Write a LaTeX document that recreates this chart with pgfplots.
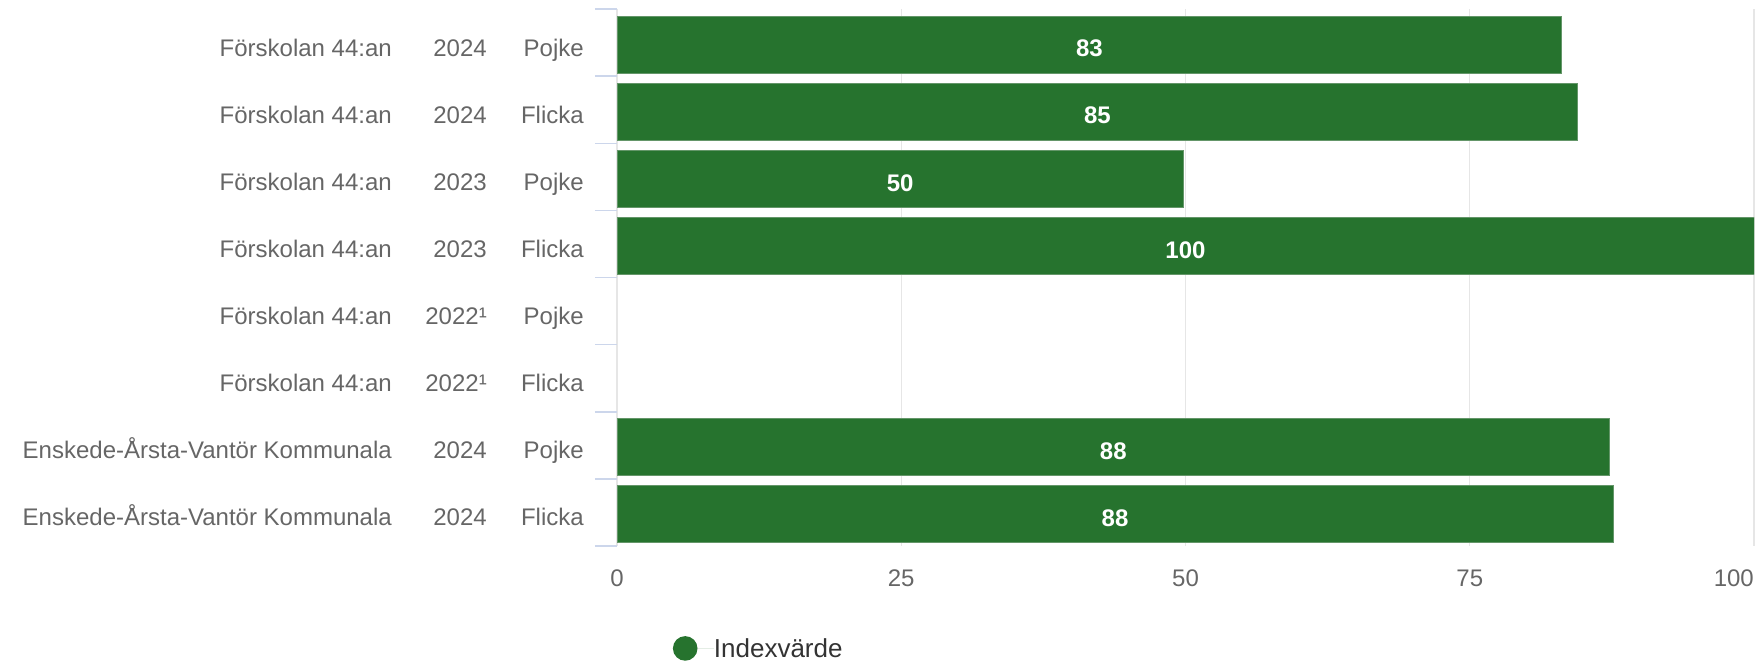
\documentclass[border=0pt]{standalone}
\usepackage{fontspec}
\setmainfont{Liberation Sans}
\usepackage{pgfplots}
\usepackage{pgfplotstable}
\pgfplotsset{compat=1.18}
\definecolor{bargreen}{RGB}{38,115,46}
\definecolor{baredge}{RGB}{100,150,105}
\definecolor{labgray}{RGB}{102,102,102}
\definecolor{tickblue}{RGB}{204,214,235}
\definecolor{gridgray}{RGB}{230,230,230}
\definecolor{legtext}{RGB}{51,51,51}

\pgfplotstableread{
y x lab
1 83.1 83
2 84.5 85
3 49.8 50
4 100 100
7 87.3 88
8 87.6 88
}\bars

\newcommand{\rowlab}[3]{#1\makebox[95pt][r]{#2}\makebox[97pt][r]{#3}}

\begin{document}
\begin{tikzpicture}
\path[use as bounding box] (0,0) rectangle (1763pt,665pt);
\begin{axis}[
  at={(617pt,119pt)}, anchor=south west,
  scale only axis, width=1137pt, height=537pt,
  xmin=0, xmax=100, ymin=0.5, ymax=8.5, y dir=reverse,
  axis line style={draw=none},
  /pgf/number format/assume math mode=true,
  xtick={0,25,50,75},
  extra x ticks={100},
  extra x tick style={grid=major, xticklabel style={anchor=north east}},
  xmajorgrids, grid style={gridgray, line width=1.2pt},
  ytick={1,...,8},
  yticklabels={
    \rowlab{Förskolan 44:an}{2024}{Pojke},
    \rowlab{Förskolan 44:an}{2024}{Flicka},
    \rowlab{Förskolan 44:an}{2023}{Pojke},
    \rowlab{Förskolan 44:an}{2023}{Flicka},
    \rowlab{Förskolan 44:an}{2022¹}{Pojke},
    \rowlab{Förskolan 44:an}{2022¹}{Flicka},
    \rowlab{Enskede-Årsta-Vantör Kommunala}{2024}{Pojke},
    \rowlab{Enskede-Årsta-Vantör Kommunala}{2024}{Flicka}},
  minor ytick={0.5,1.5,...,8.5},
  major tick length=0pt,
  minor tick length=22pt,
  tick align=outside,
  ytick pos=left, xtick pos=bottom,
  minor tick style={tickblue, line width=1.5pt},
  yticklabel style={anchor=base east, inner sep=0pt, xshift=-33pt, yshift=-13.5pt,
    font=\fontsize{24}{28}\selectfont, text=labgray},
  xticklabel style={anchor=north, inner sep=0pt, yshift=-24pt,
    font=\fontsize{24}{28}\selectfont, text=labgray},
  legend style={at={(axis description cs:0.049,-0.1907)}, anchor=west,
    draw=none, fill=none, inner sep=0pt,
    nodes={inner sep=0pt, font=\fontsize{26}{30}\selectfont, text=legtext}},
]
\addplot[xbar, bar width=57pt, bar shift=-2pt, fill=bargreen, draw=baredge, line width=1pt,
  point meta=explicit symbolic,
  nodes near coords,
  visualization depends on={\thisrow{x} \as \xval},
  every node near coord/.append style={anchor=center,
    font=\bfseries\fontsize{24}{28}\selectfont, text=white,
    xshift={-\xval*5.685pt}, yshift=-6pt},
  legend image code/.code={\fill[bargreen, draw=none] (12.3pt,0pt) circle (12.3pt);
    \path[draw=none] (0pt,0pt) -- (41pt,0pt);}
] table[x=x, y=y, meta=lab] {\bars};
\addlegendentry{Indexvärde}
\end{axis}
\end{tikzpicture}
\end{document}
